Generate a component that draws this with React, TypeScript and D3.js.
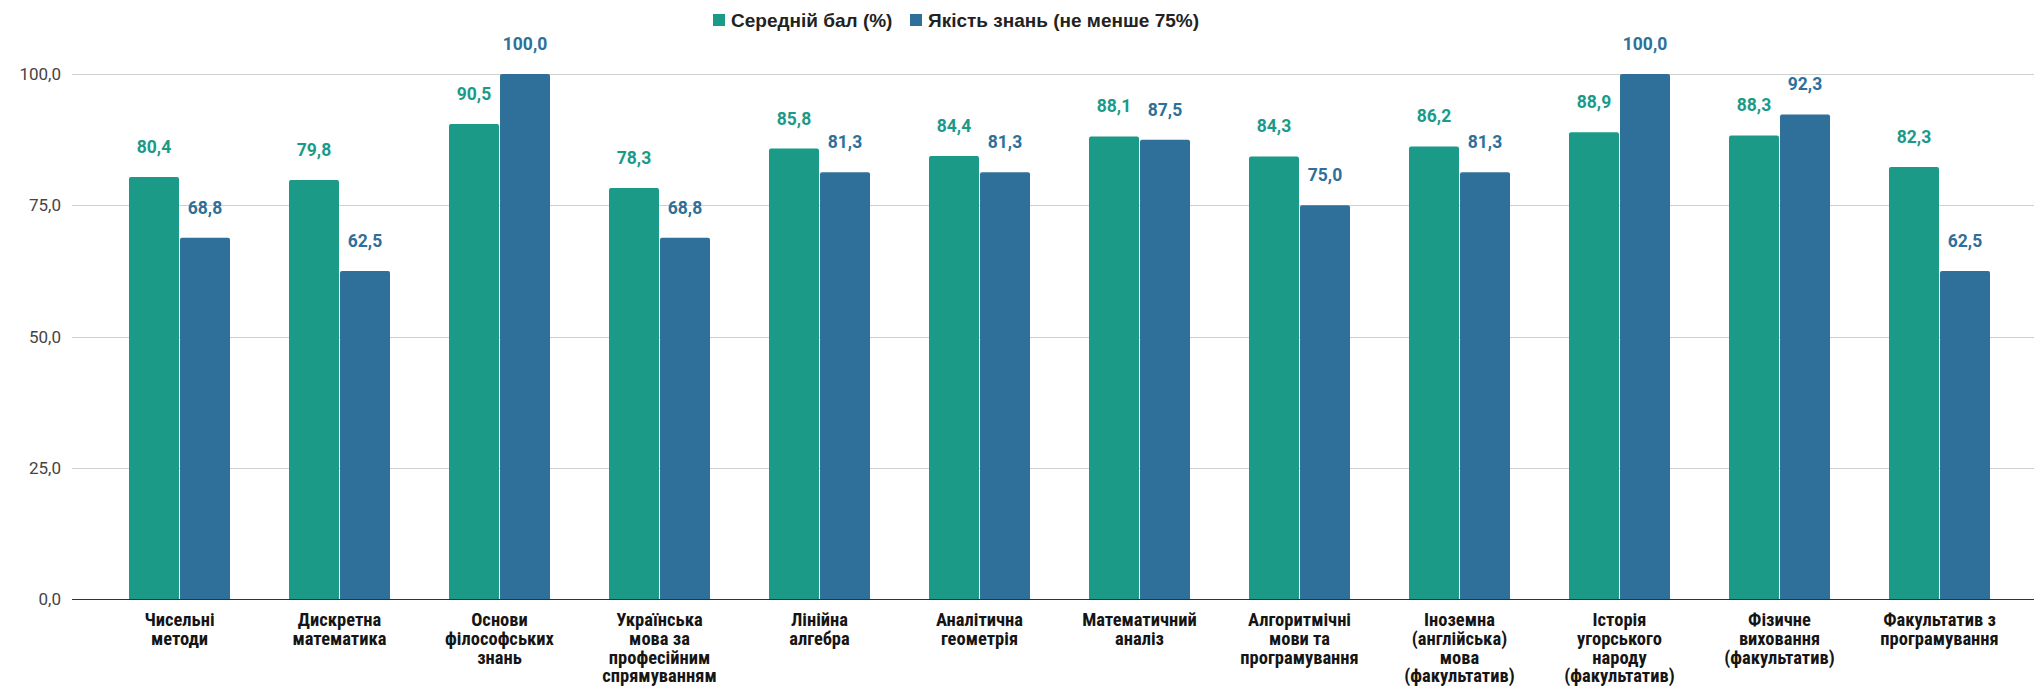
import React, { useRef, useEffect } from "react";
import * as d3 from "d3";

// Chart data
const categories: string[] = [
  "Чисельні\nметоди",
  "Дискретна\nматематика",
  "Основи\nфілософських\nзнань",
  "Українська\nмова за\nпрофесійним\nспрямуванням",
  "Лінійна\nалгебра",
  "Аналітична\nгеометрія",
  "Математичний\nаналіз",
  "Алгоритмічні\nмови та\nпрограмування",
  "Іноземна\n(англійська)\nмова\n(факультатив)",
  "Історія\nугорського\nнароду\n(факультатив)",
  "Фізичне\nвиховання\n(факультатив)",
  "Факультатив з\nпрограмування",
];

const avgScore: number[] = [80.4, 79.8, 90.5, 78.3, 85.8, 84.4, 88.1, 84.3, 86.2, 88.9, 88.3, 82.3];
const quality: number[] = [68.8, 62.5, 100.0, 68.8, 81.3, 81.3, 87.5, 75.0, 81.3, 100.0, 92.3, 62.5];

const seriesNames: string[] = ["Середній бал (%)", "Якість знань (не менше 75%)"];
const yTicks: number[] = [0, 25, 50, 75, 100];

const colors = ["#1b9a88", "#2e7099"];

const fmt = (v: number) => v.toFixed(1).replace(".", ",");

const W = 2034;
const H = 688;

const App: React.FC = () => {
  const svgRef = useRef<SVGSVGElement>(null);

  useEffect(() => {
    if (!svgRef.current) return;
    const svg = d3.select(svgRef.current);
    svg.selectAll("*").remove();

    const plotLeft = 72;
    const y = d3.scaleLinear().domain([0, 100]).range([599, 74]);

    const x0 = d3
      .scaleBand<number>()
      .domain(d3.range(categories.length))
      .range([99.5, 2019.5])
      .paddingInner(59 / 160)
      .paddingOuter(59 / 320);

    const x1 = d3
      .scaleBand<number>()
      .domain([0, 1])
      .range([0, x0.bandwidth()])
      .paddingInner(0.02);

    // gridlines + y labels
    const grid = svg.append("g");
    yTicks.forEach((t) => {
      grid
        .append("line")
        .attr("x1", plotLeft)
        .attr("x2", W)
        .attr("y1", Math.round(y(t)) + 0.5)
        .attr("y2", Math.round(y(t)) + 0.5)
        .attr("stroke", t === 0 ? "#333" : "#d0d0d0")
        .attr("stroke-width", t === 0 ? 1.2 : 1);
      grid
        .append("text")
        .attr("x", 61)
        .attr("y", y(t) + 6)
        .attr("text-anchor", "end")
        .attr("font-family", "Roboto, sans-serif")
        .attr("font-size", 17)
        .attr("fill", "#444")
        .text(fmt(t));
    });

    const series = [avgScore, quality];

    const barPath = (x: number, w: number, top: number, bottom: number) => {
      const r = 2;
      const p = d3.path();
      p.moveTo(x, bottom);
      p.lineTo(x, top + r);
      p.quadraticCurveTo(x, top, x + r, top);
      p.lineTo(x + w - r, top);
      p.quadraticCurveTo(x + w, top, x + w, top + r);
      p.lineTo(x + w, bottom);
      p.closePath();
      return p.toString();
    };

    const bars = svg.append("g");
    categories.forEach((_, i) => {
      series.forEach((vals, s) => {
        const bx = (x0(i) ?? 0) + (x1(s) ?? 0);
        const bw = x1.bandwidth();
        bars
          .append("path")
          .attr("d", barPath(bx, bw, y(vals[i]), y(0)))
          .attr("fill", colors[s]);
        bars
          .append("text")
          .attr("x", bx + bw / 2)
          .attr("y", y(vals[i]) - 24)
          .attr("text-anchor", "middle")
          .attr("font-family", "Roboto, sans-serif")
          .attr("font-weight", "bold")
          .attr("font-size", 17.5)
          .attr("fill", colors[s])
          .text(fmt(vals[i]));
      });
    });

    // x labels
    const xl = svg.append("g");
    categories.forEach((c, i) => {
      const cx = (x0(i) ?? 0) + x0.bandwidth() / 2;
      const t = xl
        .append("text")
        .attr("text-anchor", "middle")
        .attr("font-family", "'Liberation Sans Narrow', 'Roboto Condensed', Roboto, sans-serif")
        .attr("font-weight", "bold")
        .attr("font-size", 18.5)
        .attr("fill", "#151515");
      c.split("\n").forEach((line, k) => {
        t.append("tspan")
          .attr("x", cx)
          .attr("y", 626 + k * 18.8)
          .text(line);
      });
    });

    // legend
    const legend = svg.append("g");
    const legendX = [713, 910];
    seriesNames.forEach((n, s) => {
      legend
        .append("rect")
        .attr("x", legendX[s])
        .attr("y", 14)
        .attr("width", 12)
        .attr("height", 12)
        .attr("fill", colors[s]);
      legend
        .append("text")
        .attr("x", legendX[s] + 18)
        .attr("y", 27)
        .attr("font-family", "'Liberation Sans', Arial, sans-serif")
        .attr("font-weight", "bold")
        .attr("font-size", 19)
        .attr("fill", "#222")
        .text(n);
    });
  }, []);

  return (
    <svg
      ref={svgRef}
      width={W}
      height={H}
      style={{ position: "absolute", left: 0, top: 0, background: "#fff" }}
    />
  );
};

export default App;
